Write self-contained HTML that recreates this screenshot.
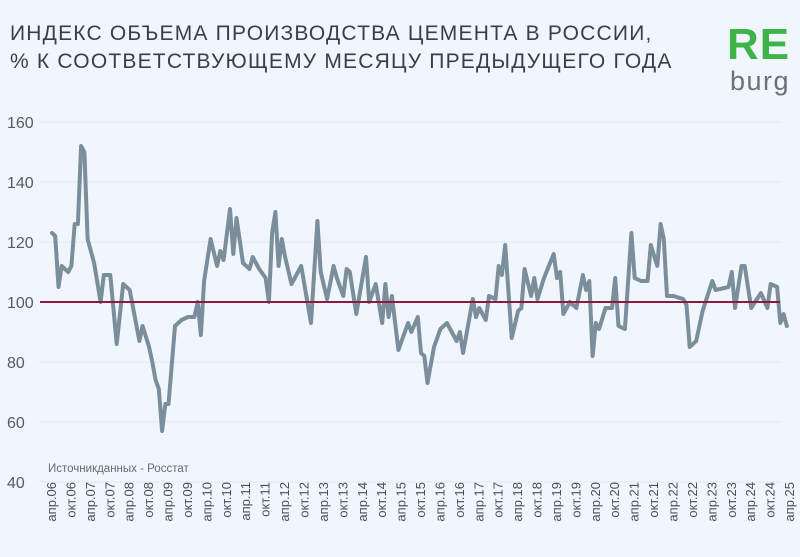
<!DOCTYPE html>
<html><head><meta charset="utf-8"><style>
body{margin:0;background:#f1f6fc;}
#wrap{position:relative;width:800px;height:557px;background:#f1f6fc;font-family:"Liberation Sans",sans-serif;overflow:hidden}
.t{position:absolute;left:10px;color:#3a3f45;font-size:21px;letter-spacing:1.2px;white-space:nowrap}
</style></head><body>
<div id="wrap">
<div class="t" style="top:22px">ИНДЕКС ОБЪЕМА ПРОИЗВОДСТВА ЦЕМЕНТА В РОССИИ,</div>
<div class="t" style="top:50px">% К СООТВЕТСТВУЮЩЕМУ МЕСЯЦУ ПРЕДЫДУЩЕГО ГОДА</div>
<div style="position:absolute;left:727px;top:20px;font-size:44px;font-weight:bold;color:#3cb44a;letter-spacing:1px">RE</div>
<div style="position:absolute;left:730px;top:66px;font-size:27px;color:#6b7075;letter-spacing:1.5px">burg</div>
<svg id="svg" width="800" height="557" style="position:absolute;left:0;top:0"></svg>
</div>
<script>
const yTicks=[160,140,120,100,80,60,40];
const months=[0,1,2,3,5,6,7,8,9,10,11,13,15,16,18,20,22,24,27,28,30,31,32,33,34,35,36,38,40,42,44,45,46,47,49,51,52,53,55,56,57,59,61,62,64,66,67,68,69,70,71,72,74,77,80,82,83,85,87,88,90,91,92,94,97,98,100,102,103,104,105,107,110,111,113,114,115,116,118,120,122,125,126,127,130,131,132,134,135,137,138,139,140,142,144,145,146,148,149,150,152,155,156,157,158,160,162,164,165,166,167,168,169,171,173,174,175,177,179,180,182,184,185,187,188,189,190,192,195,196,197,199,201,204,205,209,210,211,213,214,216,219,221,222,224,225,226,227];
const values=[123,122,105,112,110,112,126,126,152,150,121,113,100,109,109,86,106,104,87,92,85,80,74,71,57,66,66,92,94,95,95,100,89,107,121,112,117,114,131,116,128,113,111,115,111,108,100,123,130,112,121,115,106,112,93,127,110,101,112,108,102,111,110,96,115,100,106,93,106,95,102,84,93,90,95,83,82,73,85,91,93,87,90,83,101,95,98,94,102,101,112,109,119,88,97,98,111,102,108,101,108,116,108,110,96,100,98,109,104,107,82,93,91,98,98,108,92,91,123,108,107,107,119,112,126,121,102,102,101,99,85,87,97,107,104,105,110,98,112,112,98,103,98,106,105,93,96,92];
const xLabels=["апр.06","окт.06","апр.07","окт.07","апр.08","окт.08","апр.09","окт.09","апр.10","окт.10","апр.11","окт.11","апр.12","окт.12","апр.13","окт.13","апр.14","окт.14","апр.15","окт.15","апр.16","окт.16","апр.17","окт.17","апр.18","окт.18","апр.19","окт.19","апр.20","окт.20","апр.21","окт.21","апр.22","окт.22","апр.23","окт.23","апр.24","окт.24","апр.25"];
const refValue=100;
const svg=document.getElementById('svg');const NS='http://www.w3.org/2000/svg';
const X=m=>52+m*3.237;const Y=v=>302-(v-100)*3;
function mk(t,a){const e=document.createElementNS(NS,t);for(const k in a)e.setAttribute(k,a[k]);svg.appendChild(e);return e;}
yTicks.forEach(v=>{
 const g=mk('line',{x1:40,x2:780,y1:Y(v),y2:Y(v),stroke:'#e2e8ef','stroke-width':1});
 
 
 const t=mk('text',{x:7,y:Y(v)+6,'font-size':16,fill:'#555b61'});t.textContent=v;
 
 
});
const src=mk('text',{x:48,y:472,'font-size':11.5,fill:'#666b70'});src.textContent='Источникданных  - Росстат';


xLabels.forEach((l,i)=>{
 const x=X(i*6)+4;
 const t=mk('text',{x:0,y:0,'font-size':13,fill:'#4a5056','text-anchor':'end',transform:`translate(${x},482) rotate(-90)`});
 t.textContent=l;
 
 
});
const ref=mk('line',{x1:40,x2:780,y1:Y(refValue),y2:Y(refValue),stroke:'#8c1a3c','stroke-width':2});


const pts=months.map((m,i)=>X(m).toFixed(1)+','+Y(values[i]).toFixed(1)).join(' ');
const pl=mk('polyline',{points:pts,fill:'none',stroke:'#7b8e9c','stroke-width':4,'stroke-linejoin':'round','stroke-linecap':'round'});


svg.appendChild(ref);
</script>
</body></html>
